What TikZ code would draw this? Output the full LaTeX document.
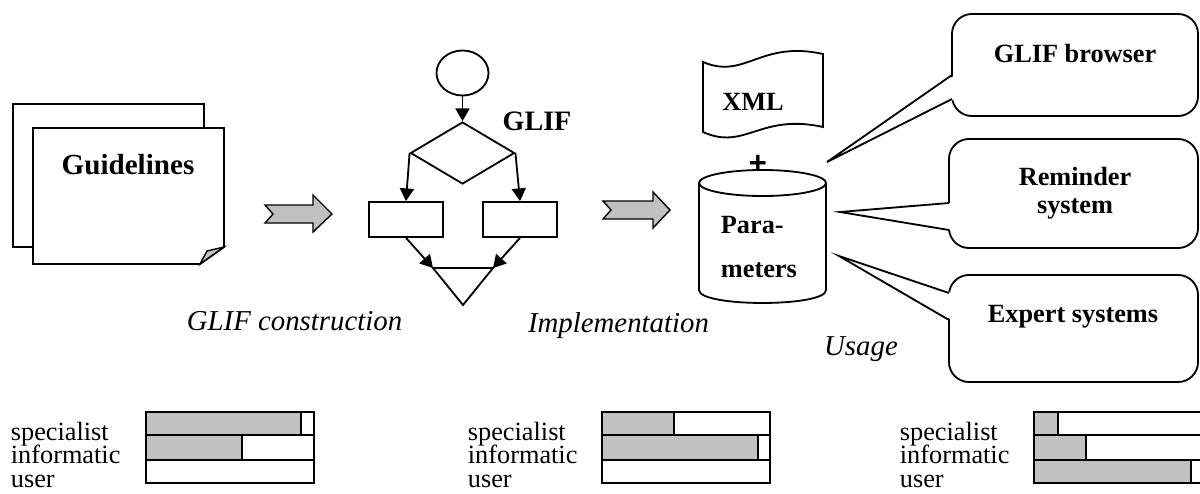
\documentclass[tikz,border=0pt]{standalone}
\usepackage{fontspec}
\setmainfont{Liberation Serif}
\newfontfamily\plusfont{Liberation Sans}
\usetikzlibrary{shapes.geometric,arrows.meta}
\definecolor{fillgray}{RGB}{192,192,192}
\begin{document}
\begin{tikzpicture}[x=0.025cm,y=-0.025cm,line width=1.3pt,
  bl/.style={font=\fontsize{18.7}{22}\selectfont\bfseries,inner sep=0pt},
  bigbl/.style={font=\fontsize{20.7}{24}\selectfont\bfseries,inner sep=0pt},
  itl/.style={font=\fontsize{20.5}{24}\selectfont\itshape,inner sep=0pt},
  sm/.style={font=\fontsize{18.7}{22}\selectfont,inner sep=0pt,anchor=base west},
  arr/.style={-{Triangle[length=9pt,width=10pt]}},
  garrow/.style={fill=fillgray,line width=1pt,line join=miter},
  callout/.style={draw,fill=white,rounded corners=0.5cm,inner sep=0pt},
  fbox/.style={draw,rectangle,minimum width=1.85cm,minimum height=0.875cm,inner sep=0pt},
  bar/.style={draw,line width=1.2pt},
  gbar/.style={draw,fill=fillgray,line width=1.2pt}]
\useasboundingbox (0,0) rectangle (1200,493);

% Guidelines sheets
\draw[fill=white] (13,104) rectangle (204,247);
\draw[fill=white,line join=miter] (33,128) -- (224,128) -- (224,247) -- (200,264) -- (33,264) -- cycle;
\draw[fill=fillgray,line width=1pt] (224,247) -- (207,251) -- (200,264) -- cycle;
\node[bigbl,anchor=base] (guide) at (128,174) {Guidelines};

% gray arrows
\draw[garrow] (265,205) -- (313,205) -- (313,195) -- (332,214) -- (313,232) -- (313,223) -- (265,223) -- (273,214) -- cycle;
\draw[garrow] (603,201) -- (653,201) -- (653,192) -- (670,210) -- (653,228) -- (653,219) -- (603,219) -- (611,210) -- cycle;

% flowchart
\node[draw,ellipse,minimum width=1.3cm,minimum height=1.125cm,inner sep=0pt] (start) at (462.5,73) {};
\node[draw,diamond,minimum width=2.6cm,minimum height=1.55cm,inner sep=0pt] (dec) at (462.5,153) {};
\node[fbox] (bL) at (406,219.5) {};
\node[fbox] (bR) at (520,219.5) {};
\coordinate (tL) at (433,268);
\coordinate (tR) at (493,268);
\coordinate (tB) at (463,305);
\draw[line join=miter] (tL) -- (tR) -- (tB) -- cycle;
\draw[arr] (start.south) -- (dec.north);
\draw[arr] (dec.west) -- (bL.north);
\draw[arr] (dec.east) -- (bR.north);
\draw[arr] (bL.south) -- (tL);
\draw[arr] (bR.south) -- (tR);
\node[font=\fontsize{20}{24}\selectfont\bfseries,inner sep=0pt,anchor=base] (glif) at (537,130) {GLIF};

% XML tape
\draw[fill=white] (703,62) .. controls (745,80) and (760,40) .. (823,54)
  -- (823,127) .. controls (760,113) and (745,151) .. (703,132) -- cycle;
\node[bl,anchor=base] (xml) at (753,110) {XML};
\node[font=\fontsize{22}{26}\selectfont\plusfont\bfseries,inner sep=0pt] (plus) at (758,164) {+};

% cylinder
\draw[fill=white] (699,183) -- (699,290) .. controls (699,307.3) and (826,307.3) .. (826,290) -- (826,183);
\draw[fill=white] (762.5,183) ellipse [x radius=1.5875cm, y radius=0.325cm];
\node[bl,anchor=base west] (par1) at (720,233) {Para-};
\node[bl,anchor=base west] (par2) at (720,277) {meters};

% callouts
\node[callout,minimum width=6.15cm,minimum height=2.55cm] (c1) at (1075,65) {};
\node[callout,minimum width=6.225cm,minimum height=2.725cm] (c2) at (1073.5,193.5) {};
\node[callout,minimum width=6.225cm,minimum height=2.675cm] (c3) at (1073.5,328.5) {};
\coordinate (tip1) at (827,162);
\coordinate (tip2) at (840,212);
\coordinate (tip3) at (839,256);
\coordinate (p1a) at (952,75);  \coordinate (p1b) at (952,99);
\coordinate (p2a) at (949,203); \coordinate (p2b) at (949,230);
\coordinate (p3a) at (949,293); \coordinate (p3b) at (949,320);
\fill[white] (955,75) -- (tip1) -- (955,99) -- cycle;
\fill[white] (952,203) -- (tip2) -- (952,230) -- cycle;
\fill[white] (952,293) -- (tip3) -- (952,320) -- cycle;
\draw[line join=miter] (p1a) -- (tip1) -- (p1b);
\draw[line join=miter] (p2a) -- (tip2) -- (p2b);
\draw[line join=miter] (p3a) -- (tip3) -- (p3b);
\node[bl,anchor=base] (t1) at (1075,62) {GLIF browser};
\node[bl,anchor=base] (t2a) at (1075,185) {Reminder};
\node[bl,anchor=base] (t2b) at (1075,213) {system};
\node[bl,anchor=base] (t3) at (1073,322) {Expert systems};

% italic labels
\node[itl,anchor=base] (l1) at (294.5,330) {GLIF construction};
\node[itl,anchor=base] (l2) at (618.5,332) {Implementation};
\node[itl,anchor=base] (l3) at (861,355) {Usage};

% role bars, group 1
\node[sm] (s1) at (10,440) {specialist};
\node[sm] (i1) at (10,463.5) {informatic};
\node[sm] (u1) at (10,487) {user};
\draw[bar] (146,412) rectangle (314,435);
\draw[bar] (146,435) rectangle (314,460);
\draw[bar] (146,460) rectangle (314,483);
\draw[gbar] (146,412) rectangle (301,435);
\draw[gbar] (146,435) rectangle (242,460);

% group 2
\node[sm] (s2) at (467,440) {specialist};
\node[sm] (i2) at (467,463.5) {informatic};
\node[sm] (u2) at (467,487) {user};
\draw[bar] (602,412) rectangle (770,435);
\draw[bar] (602,435) rectangle (770,460);
\draw[bar] (602,460) rectangle (770,483);
\draw[gbar] (602,412) rectangle (674,435);
\draw[gbar] (602,435) rectangle (758,460);

% group 3
\node[sm] (s3) at (899,440) {specialist};
\node[sm] (i3) at (899,463.5) {informatic};
\node[sm] (u3) at (899,487) {user};
\draw[bar] (1034,412) rectangle (1202,435);
\draw[bar] (1034,435) rectangle (1202,460);
\draw[bar] (1034,460) rectangle (1202,483);
\draw[gbar] (1034,412) rectangle (1058,435);
\draw[gbar] (1034,435) rectangle (1086,460);
\draw[gbar] (1034,460) rectangle (1191,483);
\end{tikzpicture}
\end{document}
